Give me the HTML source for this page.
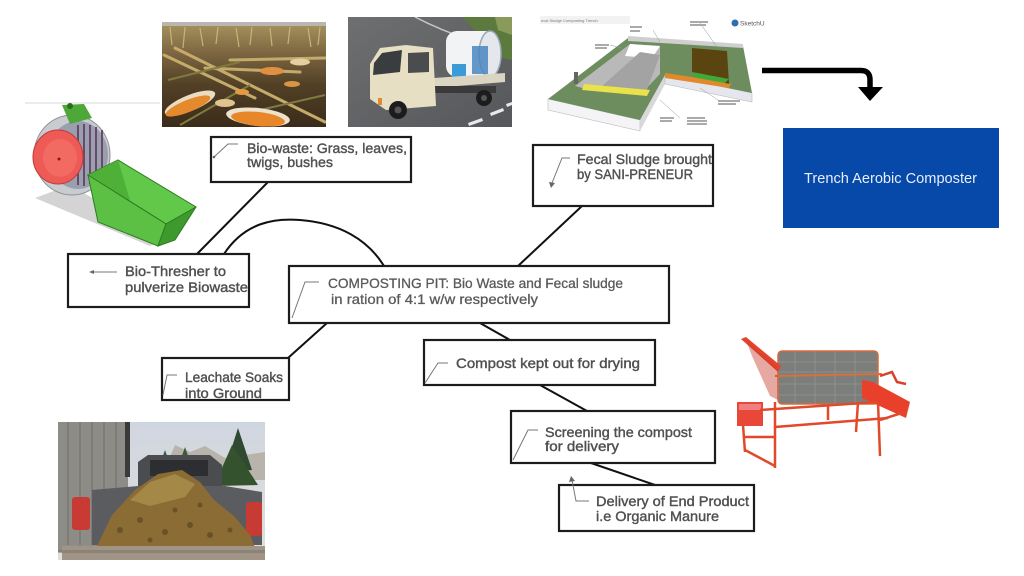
<!DOCTYPE html>
<html>
<head>
<meta charset="utf-8">
<style>
html,body{margin:0;padding:0;background:#fff;}
svg{display:block;}
.t{font-family:"Liberation Sans",Arial,sans-serif;font-size:14px;fill:#505050;stroke:#505050;stroke-width:0.4px;}
.bx{fill:#fff;stroke:#1c1c1c;stroke-width:2.2;}
.cn{stroke:#111;stroke-width:2;fill:none;}
.ld{stroke:#777;stroke-width:1;fill:none;}
</style>
</head>
<body>
<svg width="1024" height="576" viewBox="0 0 1024 576" xmlns="http://www.w3.org/2000/svg">
<defs>
  <clipPath id="cCorn"><rect x="162" y="22" width="164" height="105"/></clipPath>
  <clipPath id="cTruck"><rect x="348" y="17" width="164" height="110"/></clipPath>
  <clipPath id="cPick"><rect x="58" y="422" width="207" height="138"/></clipPath>
  <linearGradient id="gCorn" x1="0" y1="0" x2="0" y2="1">
    <stop offset="0" stop-color="#a8955f"/>
    <stop offset="0.3" stop-color="#7c6540"/>
    <stop offset="0.6" stop-color="#524026"/>
    <stop offset="1" stop-color="#3a2c1a"/>
  </linearGradient>
  <linearGradient id="gRoad" x1="0" y1="0" x2="1" y2="1">
    <stop offset="0" stop-color="#6e6f71"/>
    <stop offset="1" stop-color="#56575a"/>
  </linearGradient>
  <linearGradient id="gSky" x1="0" y1="0" x2="0" y2="1">
    <stop offset="0" stop-color="#d0d6e0"/>
    <stop offset="1" stop-color="#e0dfda"/>
  </linearGradient>
</defs>

<!-- faint guide line -->
<line x1="25" y1="103" x2="160" y2="103" stroke="#d8d8d8" stroke-width="1"/>

<!-- ===== Corn field photo ===== -->
<g clip-path="url(#cCorn)">
  <rect x="162" y="22" width="164" height="105" fill="url(#gCorn)"/>
  <rect x="162" y="22" width="164" height="4" fill="#b8b6ae"/>
  <g stroke="#c9b27a" stroke-width="1.2">
    <line x1="170" y1="27" x2="172" y2="45"/><line x1="185" y1="27" x2="183" y2="48"/>
    <line x1="200" y1="28" x2="203" y2="46"/><line x1="218" y1="27" x2="216" y2="44"/>
    <line x1="236" y1="28" x2="239" y2="47"/><line x1="252" y1="27" x2="250" y2="45"/>
    <line x1="270" y1="28" x2="272" y2="46"/><line x1="290" y1="27" x2="288" y2="44"/>
    <line x1="308" y1="28" x2="311" y2="47"/><line x1="320" y1="27" x2="318" y2="45"/>
  </g>
  <g stroke="#c4ab6c" stroke-width="3" stroke-linecap="round">
    <line x1="164" y1="55" x2="255" y2="98"/>
    <line x1="175" y1="48" x2="325" y2="122"/>
    <line x1="205" y1="68" x2="300" y2="72"/>
    <line x1="230" y1="60" x2="325" y2="58"/>
  </g>
  <g stroke="#7f7a40" stroke-width="2">
    <line x1="168" y1="80" x2="240" y2="62"/>
    <line x1="180" y1="125" x2="250" y2="85"/>
    <line x1="260" y1="110" x2="325" y2="95"/>
  </g>
  <ellipse cx="190" cy="103" rx="27" ry="8" fill="#e9dcc0" transform="rotate(-22 190 103)"/>
  <ellipse cx="188" cy="106" rx="24" ry="6" fill="#e48a2c" transform="rotate(-22 188 106)"/>
  <ellipse cx="258" cy="117" rx="32" ry="9" fill="#ede3cc" transform="rotate(6 258 117)"/>
  <ellipse cx="258" cy="119" rx="27" ry="7" fill="#e8862a" transform="rotate(6 258 119)"/>
  <ellipse cx="272" cy="71" rx="12" ry="4" fill="#e09040"/>
  <ellipse cx="300" cy="62" rx="10" ry="3.5" fill="#e3cfa0"/>
  <ellipse cx="242" cy="92" rx="7" ry="3" fill="#e39a42"/>
  <ellipse cx="225" cy="103" rx="10" ry="4" fill="#e0c490"/>
  <ellipse cx="292" cy="84" rx="8" ry="3" fill="#d99444"/>
</g>

<!-- ===== Truck photo ===== -->
<g clip-path="url(#cTruck)">
  <rect x="348" y="17" width="164" height="110" fill="url(#gRoad)"/>
  <polygon points="462,17 512,17 512,60 490,55 475,30" fill="#5d7a3e"/>
  <polygon points="495,17 512,17 512,35 498,30" fill="#8a9a5a"/>
  <path d="M415,17 Q440,30 470,40" stroke="#c8c8c8" stroke-width="1.5" fill="none"/>
  <g fill="#e8e8e8">
    <polygon points="468,123 482,118 483,121 469,126"/>
    <polygon points="490,113 503,108 504,111 491,116"/>
    <polygon points="506,104 512,102 512,105 507,107"/>
  </g>
  <!-- tank -->
  <rect x="446" y="31" width="52" height="46" rx="11" fill="#f1f3f5"/>
  <ellipse cx="490" cy="54" rx="11" ry="23" fill="#e4e8ec" stroke="#9aa8b6" stroke-width="1.5"/>
  <rect x="452" y="64" width="14" height="13" fill="#3c9ad6"/>
  <rect x="472" y="46" width="16" height="28" fill="#4a86be" opacity="0.85"/>
  <!-- bed -->
  <polygon points="434,78 505,73 505,82 434,88" fill="#d9d5c2"/>
  <rect x="434" y="86" width="62" height="7" fill="#3a3a3a"/>
  <!-- cab -->
  <polygon points="370,64 380,48 406,45 433,48 436,106 386,110 370,99" fill="#e6dfc3"/>
  <polygon points="374,63 382,53 402,50 400,72 373,75" fill="#3a3d40"/>
  <polygon points="408,53 429,52 429,72 408,73" fill="#4a4c4e"/>
  <rect x="378" y="98" width="4" height="7" fill="#e08a30"/>
  <circle cx="398" cy="110" r="9" fill="#1c1c1c"/>
  <circle cx="398" cy="110" r="3.5" fill="#555"/>
  <circle cx="484" cy="98" r="8" fill="#1c1c1c"/>
  <circle cx="484" cy="98" r="3" fill="#555"/>
</g>

<!-- ===== SketchUp model ===== -->
<g>
  <rect x="540" y="16" width="90" height="8" fill="#f2f2f2"/>
  <text x="541" y="22" font-family="Liberation Sans, sans-serif" font-size="4" fill="#777">ecal Sludge Composting Trench</text>
  <circle cx="735" cy="23" r="3.5" fill="#2f6fb0"/>
  <text x="740" y="25.5" font-family="Liberation Sans, sans-serif" font-size="6.5" fill="#555">SketchU</text>
  <polygon points="548,99 640,120 640,131 548,110" fill="#f4f4f6" stroke="#bbb" stroke-width="0.6"/>
  <polygon points="640,120 665,75 665,84 640,131" fill="#d8d8dc"/>
  <polygon points="665,75 752,93 752,102 665,84" fill="#e6e6ee" stroke="#bbb" stroke-width="0.6"/>
  <polygon points="548,99 628,38 743,46 752,93 665,75 640,120" fill="#6e8d5e"/>
  <polygon points="628,36 743,44 743,48 628,41" fill="#cfcfcf"/>
  <polygon points="575,86 630,44 660,46 660,74 640,95 590,90" fill="#b9b9b9"/>
  <polygon points="630,44 660,46 652,58 625,56" fill="#ffffff"/>
  <polygon points="600,88 640,52 660,55 645,95" fill="#a3a3a3"/>
  <polygon points="584,84 650,90 647,96 582,90" fill="#e9e24a"/>
  <polygon points="692,48 727,51 729,84 700,80 692,72" fill="#5a4510"/>
  <polygon points="692,72 729,79 722,86 698,82" fill="#3faa3a"/>
  <polygon points="665,73 692,77 730,84 732,82 729,88 665,78" fill="#e08a2c"/>
  <g stroke="#999" stroke-width="0.5">
    <line x1="653" y1="30" x2="660" y2="42"/>
    <line x1="700" y1="23" x2="717" y2="47"/>
    <line x1="610" y1="45" x2="622" y2="48"/>
    <line x1="700" y1="88" x2="718" y2="100"/>
    <line x1="660" y1="100" x2="680" y2="118"/>
  </g>
  <g fill="#aaa">
    <rect x="630" y="26" width="12" height="2"/><rect x="630" y="30" width="10" height="2"/>
    <rect x="690" y="21" width="18" height="2"/><rect x="690" y="24" width="16" height="2"/>
    <rect x="595" y="44" width="14" height="2"/><rect x="595" y="47" width="12" height="2"/>
    <rect x="718" y="100" width="22" height="2"/><rect x="718" y="103" width="18" height="2"/>
    <rect x="660" y="117" width="14" height="2"/><rect x="660" y="120" width="12" height="2"/>
    <rect x="687" y="117" width="18" height="2"/><rect x="687" y="120" width="20" height="2"/><rect x="687" y="123" width="20" height="2"/>
  </g>
  <rect x="574" y="72" width="4" height="12" fill="#666"/>
</g>

<!-- ===== Arrow to blue box ===== -->
<path d="M762,70.5 H861 Q870,70.5 870,80 V90" stroke="#000" stroke-width="5.5" fill="none"/>
<polygon points="858,87 883,87 870,101" fill="#000"/>

<!-- ===== Blue box ===== -->
<rect x="783" y="128" width="216" height="100" fill="#0749a9"/>
<text x="804" y="183" font-family="Liberation Sans, sans-serif" font-size="15" fill="#e8eefa" textLength="173" lengthAdjust="spacingAndGlyphs">Trench Aerobic Composter</text>

<!-- ===== Bio-thresher 3D model ===== -->
<g>
  <polygon points="35,198 70,185 165,240 150,246" fill="#d4d4d4"/>
  <ellipse cx="72" cy="155" rx="38" ry="40" fill="#c8ccd0" stroke="#8a8e92" stroke-width="1"/>
  <ellipse cx="78" cy="155" rx="30" ry="34" fill="#9a9fb0"/>
  <g stroke="#6a4a6a" stroke-width="2">
    <line x1="78" y1="125" x2="78" y2="185"/><line x1="84" y1="124" x2="84" y2="186"/>
    <line x1="90" y1="125" x2="90" y2="184"/><line x1="96" y1="127" x2="96" y2="180"/>
    <line x1="102" y1="130" x2="102" y2="176"/>
  </g>
  <ellipse cx="58" cy="157" rx="25" ry="27" fill="#ee5a55" stroke="#c03a38" stroke-width="1"/>
  <ellipse cx="60" cy="158" rx="17" ry="19" fill="#f26a62"/>
  <circle cx="59" cy="159" r="1.5" fill="#8a1a1a"/>
  <polygon points="62,105 84,104 92,118 70,124" fill="#4ea838"/>
  <circle cx="70" cy="106" r="3" fill="#2e6a20"/>
  <polygon points="88,175 118,160 196,207 166,224" fill="#62c84a" stroke="#2e7a22" stroke-width="1"/>
  <polygon points="88,175 118,160 130,200 100,215" fill="#4fb038"/>
  <polygon points="88,175 166,224 158,246 98,222" fill="#5cc044" stroke="#2e7a22" stroke-width="1"/>
  <polygon points="166,224 196,207 175,240 158,246" fill="#3f9a2e" stroke="#2e7a22" stroke-width="1"/>
</g>

<!-- ===== Sieve machine ===== -->
<g>
  <rect x="778" y="351" width="100" height="53" rx="4" fill="#7c7e7c" stroke="#d86a3a" stroke-width="1.5"/>
  <g stroke="#9a9c9a" stroke-width="0.6">
    <line x1="778" y1="362" x2="878" y2="362"/><line x1="778" y1="372" x2="878" y2="372"/>
    <line x1="778" y1="384" x2="878" y2="384"/><line x1="778" y1="395" x2="878" y2="395"/>
    <line x1="795" y1="351" x2="795" y2="404"/><line x1="815" y1="351" x2="815" y2="404"/>
    <line x1="835" y1="351" x2="835" y2="404"/><line x1="855" y1="351" x2="855" y2="404"/>
  </g>
  <line x1="775" y1="376" x2="882" y2="374" stroke="#d8703a" stroke-width="2"/>
  <polygon points="741,339 746,337 781,366 778,372" fill="#e5432a"/>
  <polygon points="746,340 778,368 778,400 770,396 752,356" fill="#c84030" opacity="0.45"/>
  <polyline points="880,376 892,372 897,382 906,384" stroke="#d8402a" stroke-width="2.5" fill="none"/>
  <polygon points="862,380 873,382 910,402 906,418 862,398" fill="#e8402a"/>
  <rect x="737" y="402" width="26" height="24" fill="#e8473a"/>
  <rect x="739" y="404" width="22" height="6" fill="#f08080"/>
  <g stroke="#e04a2a" stroke-width="2.5" fill="none">
    <line x1="775" y1="402" x2="775" y2="468"/>
    <line x1="878" y1="402" x2="880" y2="456"/>
    <line x1="828" y1="404" x2="828" y2="420"/>
    <line x1="775" y1="427" x2="888" y2="418"/>
    <line x1="760" y1="410" x2="878" y2="402"/>
    <line x1="743" y1="425" x2="745" y2="452"/>
    <line x1="745" y1="450" x2="775" y2="466"/>
    <line x1="745" y1="437" x2="775" y2="437"/>
    <line x1="858" y1="402" x2="856" y2="432"/>
    <line x1="880" y1="420" x2="905" y2="412"/>
  </g>
</g>

<!-- ===== Pickup truck with manure ===== -->
<g clip-path="url(#cPick)">
  <rect x="58" y="422" width="207" height="138" fill="url(#gSky)"/>
  <polygon points="175,445 190,452 205,446 225,458 265,452 265,480 160,480" fill="#b8b4ac"/>
  <polygon points="238,428 252,470 224,472" fill="#2f4a30"/>
  <polygon points="232,445 258,485 214,486" fill="#35522f"/>
  <polygon points="165,450 172,470 158,470" fill="#3c5a3a"/>
  <polygon points="185,447 193,470 177,470" fill="#3c5a3a"/>
  <rect x="58" y="422" width="70" height="130" fill="#8e8c86"/>
  <g stroke="#6e6c66" stroke-width="1">
    <line x1="68" y1="422" x2="68" y2="545"/><line x1="80" y1="422" x2="80" y2="545"/>
    <line x1="92" y1="422" x2="92" y2="545"/><line x1="104" y1="422" x2="104" y2="540"/>
    <line x1="116" y1="422" x2="116" y2="530"/>
  </g>
  <rect x="125" y="422" width="5" height="55" fill="#3a3a3a"/>
  <polygon points="138,462 148,455 210,455 222,465 222,492 138,492" fill="#4a4c50"/>
  <rect x="150" y="460" width="58" height="16" fill="#2c2e32"/>
  <polygon points="92,490 138,486 225,486 262,492 262,545 92,545" fill="#5a5c60"/>
  <rect x="72" y="497" width="18" height="33" rx="3" fill="#c83a34"/>
  <rect x="246" y="502" width="16" height="34" rx="3" fill="#c83a34"/>
  <polygon points="96,548 112,515 135,490 158,474 182,470 200,482 214,500 234,516 250,535 256,550" fill="#8a6c34"/>
  <polygon points="130,500 150,482 175,474 195,484 185,497 150,506" fill="#a48848"/>
  <g fill="#6a5226">
    <circle cx="120" cy="530" r="3"/><circle cx="140" cy="520" r="3"/><circle cx="165" cy="532" r="3"/>
    <circle cx="190" cy="525" r="3"/><circle cx="210" cy="535" r="3"/><circle cx="230" cy="530" r="2.5"/>
    <circle cx="150" cy="540" r="2.5"/><circle cx="175" cy="510" r="2.5"/><circle cx="200" cy="505" r="2.5"/>
  </g>
  <rect x="62" y="546" width="203" height="14" fill="#a09486"/>
  <rect x="58" y="550" width="207" height="3" fill="#7a7066" opacity="0.5"/>
</g>

<!-- ===== Connector lines ===== -->
<line class="cn" x1="268" y1="182" x2="197" y2="254"/>
<path class="cn" d="M224,254 C245,222 275,218 300,220 C340,223 368,240 384,266"/>
<line class="cn" x1="582" y1="206" x2="518" y2="266"/>
<line class="cn" x1="327" y1="323" x2="288" y2="358"/>
<line class="cn" x1="480" y1="323" x2="510" y2="340"/>
<line class="cn" x1="540" y1="385" x2="587" y2="411"/>
<line class="cn" x1="591" y1="463" x2="655" y2="485"/>

<!-- ===== Boxes ===== -->
<rect class="bx" x="211" y="137" width="200" height="45"/>
<rect class="bx" x="533" y="145" width="180" height="61"/>
<rect class="bx" x="68" y="254" width="181" height="53"/>
<rect class="bx" x="289" y="266" width="380" height="57"/>
<rect class="bx" x="162" y="358" width="127" height="42"/>
<rect class="bx" x="424" y="340" width="231" height="45"/>
<rect class="bx" x="511" y="411" width="204" height="52"/>
<rect class="bx" x="559" y="485" width="195" height="46"/>

<!-- ===== Leader marks ===== -->
<polyline class="ld" points="238,144 228,144 214,157"/><circle cx="214" cy="157" r="1.3" fill="#666"/>
<polyline class="ld" points="570,158 562,158 552,183"/><polygon points="549,182 555,183 551,188" fill="#666"/>
<polyline class="ld" points="117,272 94,272"/><polygon points="94,270 94,274 89,272" fill="#666"/>
<polyline class="ld" points="319,282 305,282 292,318"/>
<polyline class="ld" points="177,375 167,375 163,395"/>
<polyline class="ld" points="448,363 438,363 425,383"/>
<polyline class="ld" points="538,430 528,430 513,460"/>
<polyline class="ld" points="589,501 576,501 572,480"/><polygon points="569,482 575,481 571,476" fill="#666"/>

<!-- ===== Texts ===== -->
<text class="t" x="247" y="153" textLength="160" lengthAdjust="spacingAndGlyphs">Bio-waste: Grass, leaves,</text>
<text class="t" x="247" y="167" textLength="86" lengthAdjust="spacingAndGlyphs">twigs, bushes</text>

<text class="t" x="577" y="164" textLength="135" lengthAdjust="spacingAndGlyphs">Fecal Sludge brought</text>
<text class="t" x="577" y="179" textLength="116" lengthAdjust="spacingAndGlyphs">by SANI-PRENEUR</text>

<text class="t" x="125" y="276" textLength="101" lengthAdjust="spacingAndGlyphs">Bio-Thresher to</text>
<text class="t" x="125" y="292" textLength="123" lengthAdjust="spacingAndGlyphs">pulverize Biowaste</text>

<text class="t" x="328" y="288" textLength="295" lengthAdjust="spacingAndGlyphs" style="fill:#5a5a5a;stroke:#5a5a5a;stroke-width:0.3px">COMPOSTING PIT: Bio Waste and Fecal sludge</text>
<text class="t" x="331" y="304" textLength="207" lengthAdjust="spacingAndGlyphs" style="fill:#5a5a5a;stroke:#5a5a5a;stroke-width:0.3px">in ration of 4:1 w/w respectively</text>

<text class="t" x="185" y="382" textLength="98" lengthAdjust="spacingAndGlyphs">Leachate Soaks</text>
<text class="t" x="185" y="398" textLength="77" lengthAdjust="spacingAndGlyphs">into Ground</text>

<text class="t" x="456" y="368" textLength="184" lengthAdjust="spacingAndGlyphs">Compost kept out for drying</text>

<text class="t" x="545" y="437" textLength="147" lengthAdjust="spacingAndGlyphs">Screening the compost</text>
<text class="t" x="545" y="451" textLength="74" lengthAdjust="spacingAndGlyphs">for delivery</text>

<text class="t" x="596" y="506" textLength="153" lengthAdjust="spacingAndGlyphs">Delivery of End Product</text>
<text class="t" x="596" y="521" textLength="123" lengthAdjust="spacingAndGlyphs">i.e Organic Manure</text>
</svg>
</body>
</html>
